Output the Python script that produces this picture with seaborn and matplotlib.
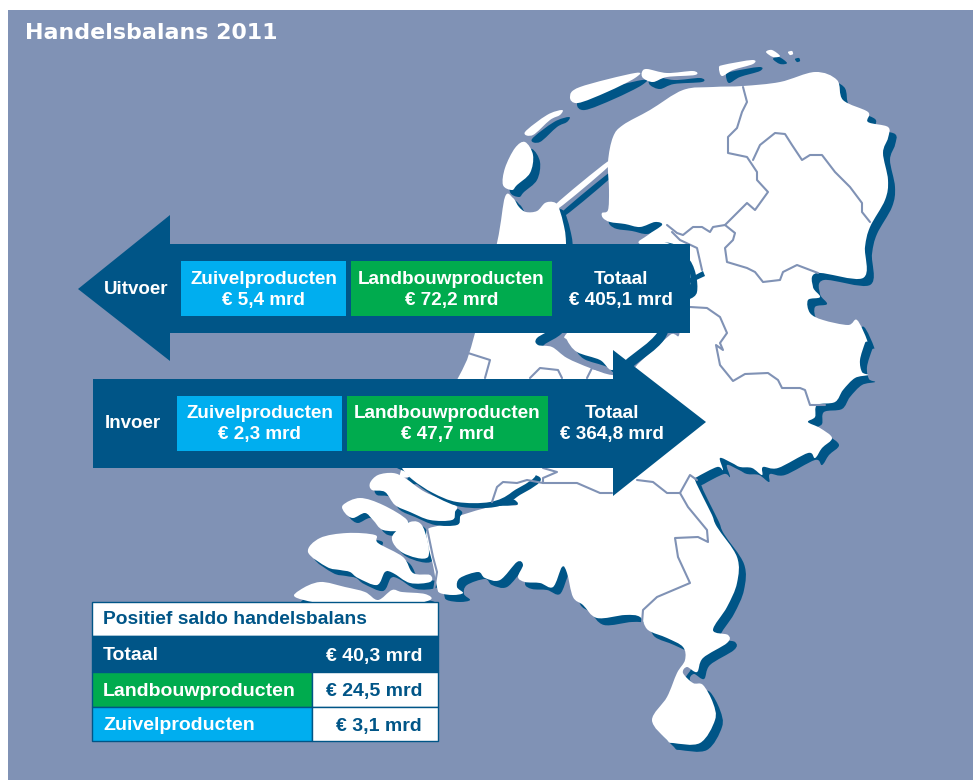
import matplotlib
matplotlib.use('Agg')
import matplotlib.pyplot as plt
from matplotlib.patches import PathPatch, Polygon, Rectangle
from matplotlib.path import Path
import numpy as np
import pandas as pd
import seaborn as sns

sns.set_theme(style='white')
plt.rcParams['font.family'] = ['Liberation Sans', 'DejaVu Sans']

# colours
BG = '#8092B5'
DARK = '#005587'
GREEN = '#00AB4E'
CYAN = '#00AEEF'

# chart values
title = 'Handelsbalans 2011'
flows = ['Uitvoer', 'Invoer']
zuivel_values = [5.4, 2.3]
landbouw_values = [72.2, 47.7]
totaal_values = [405.1, 364.8]
saldo_title = 'Positief saldo handelsbalans'
saldo_labels = ['Totaal', 'Landbouwproducten', 'Zuivelproducten']
saldo_values = [40.3, 24.5, 3.1]

# map shapes, traced in picture pixels
mainland = [(505, 197), (513, 198), (519, 207), (526, 212), (537, 211), (545, 203), (553, 202), (558, 206),
            (563, 222), (566, 243), (566, 300), (556, 325), (537, 338), (538, 345), (552, 347), (567, 358),
            (590, 368), (612, 375), (630, 372), (640, 362), (670, 335), (680, 330), (680, 250), (640, 244),
            (648, 235), (662, 225), (655, 222), (640, 227), (625, 224), (610, 222), (603, 218), (602, 213),
            (608, 210), (609, 190), (608, 162), (613, 137), (623, 125), (650, 110), (683, 90), (713, 87),
            (743, 86), (780, 82), (815, 72), (837, 80), (843, 100), (868, 112), (868, 122), (888, 127),
            (888, 138), (883, 153), (888, 180), (885, 200), (870, 227), (865, 247), (863, 278), (817, 273),
            (813, 287), (820, 297), (808, 300), (810, 313), (823, 320), (848, 325), (857, 320), (867, 340),
            (865, 343), (860, 360), (862, 372), (868, 375), (855, 378), (843, 390), (835, 402), (817, 405),
            (815, 417), (808, 422), (820, 428), (832, 438), (822, 448), (815, 458), (808, 453), (778, 468),
            (763, 467), (762, 475), (752, 468), (740, 467), (732, 463), (720, 458), (723, 470), (717, 467),
            (697, 477), (695, 480), (703, 497), (712, 515), (717, 527), (737, 557), (737, 583), (727, 607),
            (713, 630), (728, 635), (727, 643), (703, 658), (697, 672), (687, 667), (683, 673), (693, 683),
            (703, 685), (713, 703), (715, 720), (700, 743), (673, 743), (667, 740), (652, 720), (667, 697),
            (677, 673), (685, 660), (683, 647), (667, 638), (648, 630), (640, 617), (625, 615), (597, 618),
            (583, 605), (573, 597), (567, 573), (562, 567), (553, 587), (540, 583), (525, 582), (518, 577),
            (523, 565), (517, 562), (500, 580), (485, 578), (478, 572), (460, 578), (457, 587), (463, 593),
            (453, 595), (440, 593), (437, 587), (433, 565), (428, 545), (427, 530), (440, 525), (453, 518),
            (490, 507), (517, 505), (510, 498), (490, 500), (460, 495), (433, 490), (413, 478), (402, 468),
            (458, 378), (475, 333), (497, 243)]
flevoland = [(567, 333), (567, 340), (577, 352), (600, 360), (612, 370), (628, 358), (657, 333), (670, 300),
             (690, 285), (680, 250), (640, 244), (600, 300)]
goeree = [(370, 483), (378, 475), (393, 473), (405, 478), (425, 492), (455, 505), (455, 512), (452, 520),
          (430, 520), (410, 512), (395, 505), (385, 492), (372, 490)]
zh_south = [(402, 468), (413, 480), (433, 493), (457, 502), (490, 502), (512, 492), (530, 470), (402, 462)]
schouwen = [(343, 505), (360, 498), (383, 505), (407, 520), (403, 530), (383, 530), (373, 520), (365, 513),
            (353, 518), (345, 513)]
tholen = [(392, 537), (410, 522), (423, 527), (428, 557), (403, 553)]
walcheren = [(308, 552), (320, 538), (347, 533), (375, 535), (378, 543), (403, 557), (413, 573), (430, 575),
             (430, 582), (410, 583), (393, 573), (385, 572), (377, 585), (358, 578), (350, 572), (340, 570),
             (327, 567)]
vlaanderen = [(297, 598), (300, 590), (320, 582), (345, 587), (365, 592), (378, 600), (392, 590), (402, 592),
              (425, 594), (430, 600), (400, 606), (340, 606)]
texel = [(525, 142), (533, 155), (530, 173), (517, 185), (512, 190), (503, 185), (505, 168), (515, 148)]
vlieland = [(525, 132), (547, 115), (562, 110), (560, 115), (550, 120), (533, 135)]
terschelling = [(570, 97), (580, 87), (635, 73), (635, 78), (607, 92), (578, 103)]
ameland = [(642, 72), (647, 69), (667, 73), (693, 71), (695, 75), (667, 77), (653, 82), (643, 78)]
schiermonnikoog = [(719, 68), (723, 65), (752, 60), (753, 64), (733, 70), (722, 76)]
rottum_a = [(766, 52), (772, 50), (780, 56), (773, 57)]
rottum_b = [(788, 52), (792, 51), (793, 54), (790, 55)]
afsluitdijk = [(556, 204), (607, 162), (608, 167), (559, 208)]
polder_shadow = [(690, 278), (703, 271), (705, 276), (690, 283)]

# province borders, traced in picture pixels
borders = [
    [(743, 87), (747, 102), (742, 112), (737, 128), (728, 137), (728, 153), (747, 157), (757, 172), (757, 180),
     (768, 192), (755, 210), (747, 203), (725, 225), (713, 227), (710, 232), (702, 227), (693, 227), (683, 235),
     (677, 233), (667, 225)],
    [(672, 232), (680, 240), (697, 248), (702, 270)],
    [(725, 225), (735, 233), (733, 240), (725, 248), (727, 262), (747, 268), (755, 272), (763, 282), (780, 280),
     (783, 272), (797, 265), (818, 273)],
    [(753, 160), (760, 145), (775, 133), (785, 134), (792, 145), (802, 160), (810, 155), (822, 155), (835, 172),
     (850, 187), (862, 203), (862, 212), (870, 222)],
    [(690, 307), (707, 308), (720, 317), (727, 333), (720, 343), (723, 350), (716, 345), (720, 365), (733, 381),
     (745, 374), (768, 373), (778, 380), (782, 388), (800, 388), (805, 390), (810, 405), (825, 405)],
    [(492, 502), (497, 487), (503, 482), (517, 483), (527, 480), (543, 483), (577, 483), (600, 493), (612, 493)],
    [(637, 480), (653, 482), (667, 493), (680, 493), (690, 475), (697, 480)],
    [(680, 493), (688, 507), (707, 530), (708, 542), (698, 537), (675, 538), (678, 557), (690, 583), (657, 597),
     (643, 610), (642, 623)],
    [(468, 353), (490, 360), (485, 378)],
    [(530, 378), (540, 368), (558, 370), (562, 378)],
    [(587, 378), (592, 368), (612, 373)],
    [(543, 468), (557, 472), (543, 478), (543, 483)],
    [(427, 528), (433, 557), (437, 572), (433, 597)],
]
border_df = pd.DataFrame([{'border': i, 'x': p[0], 'y': p[1], 'order': j}
                          for i, line in enumerate(borders) for j, p in enumerate(line)])

fig = plt.figure(figsize=(9.73, 7.8), dpi=100, facecolor='white')
ax = fig.add_axes([0, 0, 1, 1])
ax.set_xlim(0, 973)
ax.set_ylim(780, 0)
ax.axis('off')
ax.add_patch(Rectangle((8, 10), 965, 770, fc=BG, lw=0, zorder=0))


def smooth(points):
    # closed bezier through the traced points, the coast is not angular
    p = np.array(points, dtype=float)
    verts = [p[0]]
    codes = [Path.MOVETO]
    n = len(p)
    for i in range(n):
        a, b, c, d = p[i - 1], p[i], p[(i + 1) % n], p[(i + 2) % n]
        verts += [b + (c - a) / 6, c - (d - b) / 6, c]
        codes += [Path.CURVE4] * 3
    return Path(verts, codes)


def land(points, zorder, shift=7):
    moved = [(x + shift, y + shift) for x, y in points]
    ax.add_patch(PathPatch(smooth(moved), fc=DARK, lw=0, zorder=zorder))
    ax.add_patch(PathPatch(smooth(points), fc='white', lw=0, zorder=zorder + 0.1))


for shape in [texel, vlieland, terschelling, ameland, schiermonnikoog, rottum_a, rottum_b, afsluitdijk]:
    land(shape, 1, shift=7)
land(vlaanderen, 1.4)
land(walcheren, 1.5, shift=6)
land(schouwen, 1.6, shift=5)
land(tholen, 1.7, shift=4)
land(mainland, 2)
land(flevoland, 3)
land(goeree, 4, shift=5)
land(zh_south, 5, shift=5)
ax.add_patch(Polygon(polder_shadow, fc=DARK, lw=0, zorder=6))

sns.lineplot(data=border_df, x='x', y='y', units='border', estimator=None, sort=False,
             color=BG, lw=1.5, ax=ax, zorder=7, legend=False)
ax.set_xlim(0, 973)
ax.set_ylim(780, 0)
ax.axis('off')

ax.text(25, 33, title, color='white', fontsize=15.9, fontweight='bold', family='DejaVu Sans', va='center')


def money(v):
    return '€ ' + f'{v:.1f}'.replace('.', ',') + ' mrd'


def two_lines(xc, y1, y2, top, bottom):
    for y, txt in [(y1, top), (y2, bottom)]:
        ax.text(xc, y, txt, color='white', fontsize=13.6, fontweight='bold', ha='center', va='center', zorder=12)


def box(x0, x1, y0, y1, color, top, bottom, dy=0):
    ax.add_patch(Rectangle((x0, y0), x1 - x0, y1 - y0, fc=color, lw=0, zorder=11))
    two_lines((x0 + x1) / 2, y0 + 18 + dy, y0 + 39 + dy, top, bottom)


# uitvoer arrow
ax.add_patch(Polygon([(78, 289), (170, 215), (170, 244), (690, 244), (690, 333), (170, 333), (170, 361)],
                     fc=DARK, lw=0, zorder=10))
ax.text(136, 289.5, flows[0], color='white', fontsize=13.5, fontweight='bold', ha='center', va='center', zorder=12)
box(181, 346, 261, 316, CYAN, saldo_labels[2], money(zuivel_values[0]), dy=1)
box(351, 552, 261, 316, GREEN, saldo_labels[1], money(landbouw_values[0]), dy=1)
two_lines(621, 280, 301, saldo_labels[0], money(totaal_values[0]))

# invoer arrow
ax.add_patch(Polygon([(93, 379), (613, 379), (613, 350), (706, 422), (613, 496), (613, 468), (93, 468)],
                     fc=DARK, lw=0, zorder=10))
ax.text(133, 423.5, flows[1], color='white', fontsize=13.5, fontweight='bold', ha='center', va='center', zorder=12)
box(177, 342, 396, 451, CYAN, saldo_labels[2], money(zuivel_values[1]))
box(347, 548, 396, 451, GREEN, saldo_labels[1], money(landbouw_values[1]))
two_lines(612, 414, 435, saldo_labels[0], money(totaal_values[1]))

# saldo table
rows = [(602, 636), (636, 672), (672, 707), (707, 741)]
tx0, tsplit, tx1 = 92, 312, 438
ax.add_patch(Rectangle((tx0, rows[0][0]), tx1 - tx0, rows[0][1] - rows[0][0], fc='white', ec=DARK, lw=1, zorder=11))
ax.text(103, 620, saldo_title, color=DARK, fontsize=13.9, fontweight='bold', va='center', zorder=12)
ax.add_patch(Rectangle((tx0, rows[1][0]), tx1 - tx0, rows[1][1] - rows[1][0], fc=DARK, ec=DARK, lw=1, zorder=11))
for i, (y0, y1) in enumerate(rows[1:]):
    ym = (y0 + y1) / 2 + 2
    if i > 0:
        ax.add_patch(Rectangle((tx0, y0), tsplit - tx0, y1 - y0, fc=[GREEN, CYAN][i - 1], ec=DARK, lw=1, zorder=11))
        ax.add_patch(Rectangle((tsplit, y0), tx1 - tsplit, y1 - y0, fc='white', ec=DARK, lw=1, zorder=11))
    ax.text(103, ym, saldo_labels[i], color='white', fontsize=14, fontweight='bold', va='center', zorder=12)
    ax.text(422, ym, money(saldo_values[i]), color='white' if i == 0 else DARK, fontsize=14, fontweight='bold',
            ha='right', va='center', zorder=12)

fig.savefig('out.png', dpi=100, facecolor='white')
